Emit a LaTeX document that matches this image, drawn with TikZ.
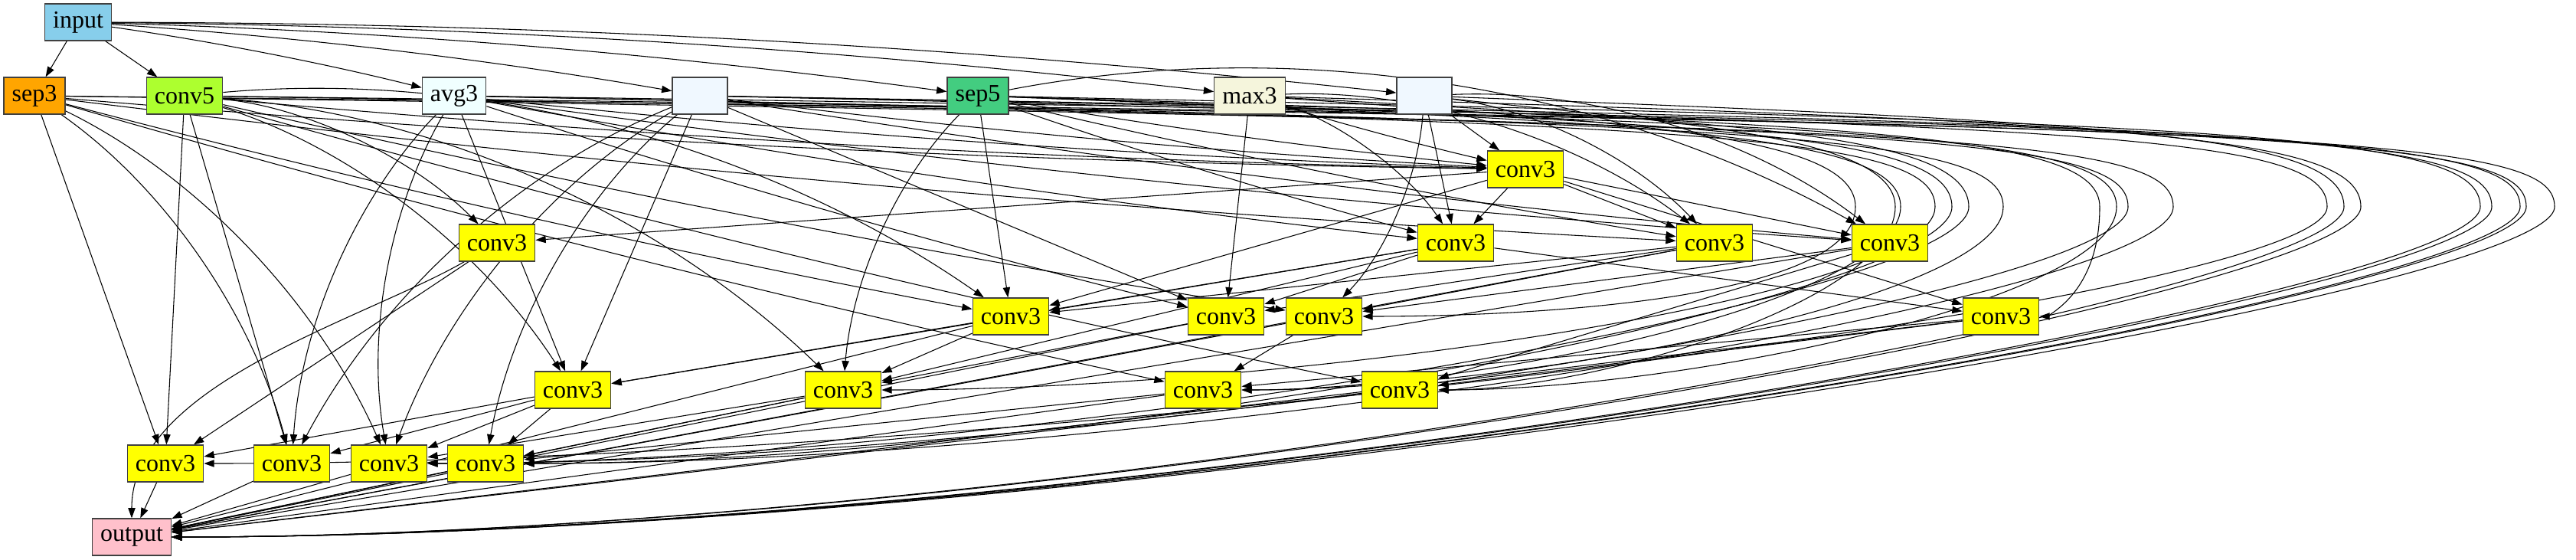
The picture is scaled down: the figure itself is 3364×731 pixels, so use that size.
\documentclass[tikz,border=0pt]{standalone}
\usepackage{fontspec}
\setmainfont{Liberation Serif}
\usetikzlibrary{arrows.meta,calc}
\pgfdeclarelayer{bg}
\pgfsetlayers{bg,main}
\definecolor{inblue}{RGB}{135,206,235}
\definecolor{sepor}{RGB}{255,165,0}
\definecolor{convlime}{RGB}{173,255,47}
\definecolor{avgazure}{RGB}{240,255,255}
\definecolor{idalice}{RGB}{240,248,255}
\definecolor{sepgreen}{RGB}{67,205,128}
\definecolor{maxbeige}{RGB}{245,245,220}
\definecolor{outpink}{RGB}{255,192,203}
\definecolor{convyel}{RGB}{255,255,0}

\begin{document}
\begin{tikzpicture}[x=0.75pt,y=0.75pt,
    cell/.style={draw=black!75,line width=0.9pt,minimum width=54pt,minimum height=36pt,
      inner xsep=8pt,inner ysep=0pt,font=\fontsize{24}{28}\selectfont},
    link/.style={line width=0.8pt,-{Triangle[length=10pt,width=7pt]}}]
  \useasboundingbox (0,0) rectangle (3364,-731);
  % sources and operations
  \node[cell,fill=inblue] (inp) at (102,-29) {input};
  \node[cell,fill=sepor] (sp3) at (45,-125) {sep3};
  \node[cell,fill=convlime] (cv5) at (241,-125) {conv5};
  \node[cell,fill=avgazure] (av3) at (593,-125) {avg3};
  \node[cell,fill=idalice] (id1) at (914,-125) {};
  \node[cell,fill=sepgreen] (sp5) at (1277,-125) {sep5};
  \node[cell,fill=maxbeige] (mx3) at (1632,-125) {max3};
  \node[cell,fill=idalice] (id2) at (1860,-125) {};
  \foreach \n/\x/\y in {k1/1992/221,k2/649/317,k3/1901/317,k4/2239/317,k5/2468/317,
      k6/1320/413,k7/1601/413,k8/1729/413,k9/2613/413,k10/748/509,k11/1101/509,
      k12/1571/509,k13/1828/509,k14/216/605,k15/381/605,k16/508/605,k17/634/605}
    \node[cell,fill=convyel] (\n) at (\x,-\y) {conv3};
  \node[cell,fill=outpink] (outp) at (172,-701) {output};
  % edges
  \begin{pgfonlayer}{bg}
  \foreach \t in {sp3,cv5} \draw[link] (inp) -- (\t);
  \foreach \s/\t/\a in {inp/av3/3,inp/id1/3,inp/sp5/3,inp/mx3/3,inp/id2/3,
      sp3/k1/-2,cv5/k1/-2,av3/k1/-2,id1/k1/-2,sp5/k1/-2,mx3/k1/-2,av3/k3/-2,sp5/k3/-2,
      sp3/k4/-2,sp5/k4/-2,av3/k5/-2,id1/k5/-2,sp3/k6/-2,av3/k7/-2,cv5/k8/-2,sp3/k12/-2,
      cv5/k13/-2,cv5/k2/20,mx3/k3/20,mx3/k4/20,id2/k4/20,sp5/k5/20,id2/k5/20,cv5/k6/20,
      id2/k8/20,cv5/k10/20,sp3/k15/20,sp3/k16/20,cv5/k11/20,sp5/k11/-20,av3/k15/-20,
      id1/k15/-20,av3/k16/-20,id1/k17/-20,id1/k16/-20}
    \draw[link] (\s) .. controls ($(\s)!0.35!\a:(\t)$) and ($(\t)!0.35!-\a:(\s)$) .. (\t);
  \foreach \s/\t in {id2/k1,k1/k2,k1/k3,id2/k3,k1/k4,k1/k5,sp5/k6,k1/k6,k3/k6,k4/k6,
      mx3/k7,id1/k7,k3/k7,k4/k7,k4/k8,k5/k8,k1/k9,k3/k9,av3/k10,id1/k10,k6/k10,k3/k10,
      k6/k11,k7/k11,k3/k11,k8/k12,k9/k12,k9/k13,k5/k13,sp3/k14,cv5/k14,k10/k14,k2/k14,
      cv5/k15,k10/k15,k10/k16,k11/k16,k10/k17,k11/k17,k12/k17,k14/outp,k15/outp,
      k16/outp,k17/outp,k11/outp,k12/outp,k13/outp,k9/outp,k5/outp,k4/outp,k6/outp,
      k7/outp,k8/outp}
    \draw[link] (\s) -- (\t);
  \draw[link] (k2) .. controls +(-150:200) and +(90:200) .. (outp);
  % long edges around the right side
  \foreach \s/\t/\e/\tx/\ty in {sp5/k9/2742/2613/413,mx3/k8/2423/1729/413,
      id2/k13/2475/1828/509,sp5/k12/2482/1571/509,av3/k11/2527/1101/509,
      sp5/k17/2549/634/605,mx3/k16/2571/508/605,av3/k12/2616/1571/509,
      id1/k13/2764/1828/509,cv5/k16/2779/508/605,sp3/k17/2838/634/605,
      id1/k14/3039/216/605,id2/outp/3061/172/701,mx3/outp/3083/172/701,
      sp5/outp/3239/172/701,id1/outp/3254/172/701,av3/outp/3291/172/701,
      cv5/outp/3299/172/701,sp3/outp/3336/172/701}
    \draw[link] (\s) .. controls ({\e-300},-160) and (\e,-175) .. (\e,-270)
      .. controls (\e,-390) and ({\e-0.6*(\e-\tx)},-\ty) .. (\t);
  \end{pgfonlayer}
\end{tikzpicture}
\end{document}
